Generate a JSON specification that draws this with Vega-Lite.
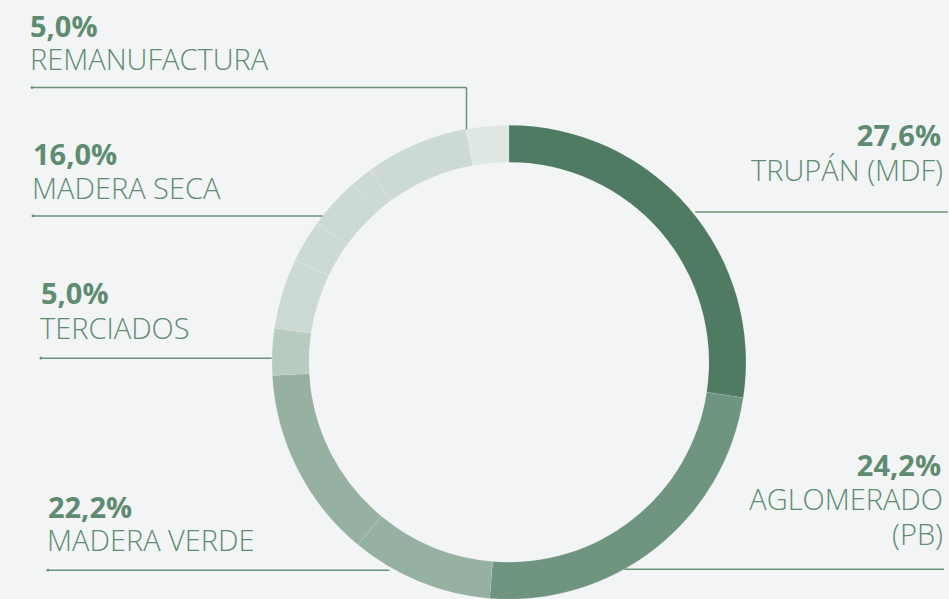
{
  "$schema": "https://vega.github.io/schema/vega-lite/v6.json",
  "width": 949,
  "height": 599,
  "autosize": {"type": "fit", "contains": "padding"},
  "padding": 0,
  "background": "#f3f4f6",
  "config": {"view": {"stroke": null}},
  "datasets": {
    "arcs": [
      {"idx": 1, "categoria": "TRUPÁN (MDF)", "share": 27.4},
      {"idx": 2, "categoria": "AGLOMERADO (PB)", "share": 23.9},
      {"idx": 3, "categoria": "MADERA VERDE", "share": 9.7},
      {"idx": 4, "categoria": "MADERA VERDE", "share": 13.1},
      {"idx": 5, "categoria": "TERCIADOS", "share": 3.2},
      {"idx": 6, "categoria": "MADERA SECA", "share": 4.8},
      {"idx": 7, "categoria": "MADERA SECA", "share": 2.9},
      {"idx": 8, "categoria": "MADERA SECA", "share": 3.5},
      {"idx": 9, "categoria": "MADERA SECA", "share": 1.5},
      {"idx": 10, "categoria": "MADERA SECA", "share": 7.1},
      {"idx": 11, "categoria": "REMANUFACTURA", "share": 2.9}
    ],
    "labels": [
      {"text": "5,0%", "kind": "pct", "side": "left", "x": 30, "y": 37},
      {"text": "REMANUFACTURA", "kind": "name", "side": "left", "x": 30, "y": 70},
      {"text": "16,0%", "kind": "pct", "side": "left", "x": 33, "y": 166},
      {"text": "MADERA SECA", "kind": "name", "side": "left", "x": 32, "y": 200},
      {"text": "5,0%", "kind": "pct", "side": "left", "x": 41, "y": 306},
      {"text": "TERCIADOS", "kind": "name", "side": "left", "x": 40, "y": 341},
      {"text": "22,2%", "kind": "pct", "side": "left", "x": 48, "y": 521},
      {"text": "MADERA VERDE", "kind": "name", "side": "left", "x": 47, "y": 554},
      {"text": "27,6%", "kind": "pct", "side": "right", "x": 942, "y": 147},
      {"text": "TRUPÁN (MDF)", "kind": "name", "side": "right", "x": 944, "y": 182},
      {"text": "24,2%", "kind": "pct", "side": "right", "x": 942, "y": 478},
      {"text": "AGLOMERADO", "kind": "name", "side": "right", "x": 944, "y": 513},
      {"text": "(PB)", "kind": "name", "side": "right", "x": 944, "y": 548}
    ],
    "rules": [
      {"x1": 32, "y1": 88, "x2": 467, "y2": 88, "dot": true},
      {"x1": 467, "y1": 88, "x2": 467, "y2": 130, "dot": false},
      {"x1": 33, "y1": 217, "x2": 323, "y2": 217, "dot": true},
      {"x1": 41, "y1": 360, "x2": 272, "y2": 360, "dot": true},
      {"x1": 48, "y1": 573, "x2": 390, "y2": 573, "dot": true},
      {"x1": 696, "y1": 213, "x2": 949, "y2": 213, "dot": false},
      {"x1": 625, "y1": 572, "x2": 945, "y2": 572, "dot": false}
    ]
  },
  "layer": [
    {
      "data": {"name": "arcs"},
      "mark": {"type": "arc", "outerRadius": 237, "innerRadius": 200, "stroke": "#ffffff", "strokeWidth": 0.5, "strokeOpacity": 0.2},
      "encoding": {
        "theta": {"field": "share", "type": "quantitative", "stack": true},
        "order": {"field": "idx", "type": "quantitative"},
        "color": {
          "field": "categoria", "type": "nominal", "legend": null,
          "scale": {
            "domain": ["TRUPÁN (MDF)", "AGLOMERADO (PB)", "MADERA VERDE", "TERCIADOS", "MADERA SECA", "REMANUFACTURA"],
            "range": ["#4e7b62", "#6f9580", "#96b1a1", "#b7cbc0", "#cddad3", "#dee7e2"]
          }
        },
        "x": {"datum": 509.5, "type": "quantitative", "scale": {"domain": [0, 949]}, "axis": null},
        "y": {"datum": 364, "type": "quantitative", "scale": {"domain": [0, 599], "reverse": true}, "axis": null}
      }
    },
    {
      "data": {"name": "rules"},
      "mark": {"type": "rule", "color": "#6b9079", "strokeWidth": 1.5},
      "encoding": {
        "x": {"field": "x1", "type": "quantitative", "scale": {"domain": [0, 949]}, "axis": null},
        "x2": {"field": "x2"},
        "y": {"field": "y1", "type": "quantitative", "scale": {"domain": [0, 599], "reverse": true}, "axis": null},
        "y2": {"field": "y2"}
      }
    },
    {
      "data": {"name": "rules"},
      "transform": [{"filter": "datum.dot"}],
      "mark": {"type": "circle", "color": "#6b9079", "size": 8, "opacity": 1},
      "encoding": {
        "x": {"field": "x1", "type": "quantitative", "scale": {"domain": [0, 949]}, "axis": null},
        "y": {"field": "y1", "type": "quantitative", "scale": {"domain": [0, 599], "reverse": true}, "axis": null}
      }
    },
    {
      "data": {"name": "labels"},
      "transform": [{"filter": "datum.kind == 'pct' && datum.side == 'left'"}],
      "mark": {"type": "text", "align": "left", "baseline": "alphabetic", "font": "Open Sans", "fontWeight": "bold", "fontSize": 29, "color": "#5f8b70"},
      "encoding": {
        "x": {"field": "x", "type": "quantitative", "scale": {"domain": [0, 949]}, "axis": null},
        "y": {"field": "y", "type": "quantitative", "scale": {"domain": [0, 599], "reverse": true}, "axis": null},
        "text": {"field": "text"}
      }
    },
    {
      "data": {"name": "labels"},
      "transform": [{"filter": "datum.kind == 'pct' && datum.side == 'right'"}],
      "mark": {"type": "text", "align": "right", "baseline": "alphabetic", "font": "Open Sans", "fontWeight": "bold", "fontSize": 29, "color": "#5f8b70"},
      "encoding": {
        "x": {"field": "x", "type": "quantitative", "scale": {"domain": [0, 949]}, "axis": null},
        "y": {"field": "y", "type": "quantitative", "scale": {"domain": [0, 599], "reverse": true}, "axis": null},
        "text": {"field": "text"}
      }
    },
    {
      "data": {"name": "labels"},
      "transform": [{"filter": "datum.kind == 'name' && datum.side == 'left'"}],
      "mark": {"type": "text", "align": "left", "baseline": "alphabetic", "font": "Open Sans", "fontWeight": 300, "fontSize": 29, "color": "#5f8b70"},
      "encoding": {
        "x": {"field": "x", "type": "quantitative", "scale": {"domain": [0, 949]}, "axis": null},
        "y": {"field": "y", "type": "quantitative", "scale": {"domain": [0, 599], "reverse": true}, "axis": null},
        "text": {"field": "text"}
      }
    },
    {
      "data": {"name": "labels"},
      "transform": [{"filter": "datum.kind == 'name' && datum.side == 'right'"}],
      "mark": {"type": "text", "align": "right", "baseline": "alphabetic", "font": "Open Sans", "fontWeight": 300, "fontSize": 29, "color": "#5f8b70"},
      "encoding": {
        "x": {"field": "x", "type": "quantitative", "scale": {"domain": [0, 949]}, "axis": null},
        "y": {"field": "y", "type": "quantitative", "scale": {"domain": [0, 599], "reverse": true}, "axis": null},
        "text": {"field": "text"}
      }
    }
  ]
}
